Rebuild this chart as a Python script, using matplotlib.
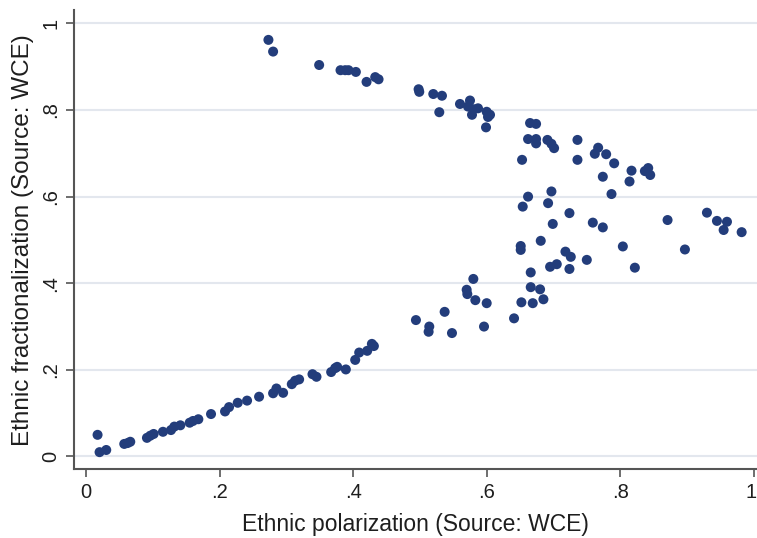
import matplotlib
matplotlib.use("Agg")
import matplotlib.pyplot as plt
from matplotlib.transforms import ScaledTranslation

polarization = [
    0.017, 0.020, 0.030, 0.057, 0.062, 0.066, 0.091, 0.096, 0.101, 0.115,
    0.127, 0.132, 0.141, 0.155, 0.160, 0.168, 0.187, 0.208, 0.214, 0.227,
    0.241, 0.259, 0.280, 0.285, 0.295, 0.308, 0.313, 0.319, 0.339, 0.345,
    0.367, 0.373, 0.376, 0.389, 0.403, 0.409, 0.421, 0.428, 0.431,
    0.494, 0.514, 0.513, 0.537, 0.548, 0.596, 0.580, 0.570, 0.571, 0.583,
    0.600, 0.641, 0.652, 0.669, 0.685, 0.666, 0.680, 0.666, 0.695, 0.705,
    0.724, 0.822, 0.750, 0.718, 0.726, 0.804, 0.681, 0.651, 0.651, 0.699,
    0.759, 0.774, 0.724, 0.897, 0.871, 0.930, 0.945, 0.960, 0.955, 0.982,
    0.697, 0.662, 0.654, 0.692, 0.787,
    0.273, 0.280, 0.349, 0.381, 0.388, 0.393, 0.404, 0.420, 0.433, 0.438,
    0.498, 0.499, 0.520, 0.533, 0.529, 0.560, 0.575, 0.572, 0.580, 0.587,
    0.578, 0.600, 0.605, 0.602, 0.599, 0.665, 0.674, 0.662, 0.674, 0.674,
    0.691, 0.697, 0.701, 0.653, 0.736, 0.736, 0.767, 0.762, 0.779, 0.791,
    0.774, 0.817, 0.814, 0.842, 0.837, 0.845,
]
fractionalization = [
    0.050, 0.010, 0.015, 0.029, 0.031, 0.034, 0.043, 0.048, 0.052, 0.057,
    0.061, 0.069, 0.072, 0.078, 0.082, 0.086, 0.098, 0.104, 0.114, 0.124,
    0.129, 0.138, 0.146, 0.157, 0.147, 0.167, 0.175, 0.178, 0.190, 0.184,
    0.195, 0.204, 0.207, 0.201, 0.223, 0.240, 0.244, 0.260, 0.255,
    0.315, 0.300, 0.288, 0.334, 0.285, 0.300, 0.410, 0.385, 0.375, 0.361,
    0.354, 0.319, 0.356, 0.354, 0.363, 0.391, 0.386, 0.425, 0.438, 0.444,
    0.433, 0.436, 0.454, 0.473, 0.461, 0.485, 0.498, 0.486, 0.477, 0.537,
    0.540, 0.529, 0.562, 0.478, 0.546, 0.563, 0.544, 0.542, 0.523, 0.518,
    0.612, 0.600, 0.577, 0.585, 0.606,
    0.962, 0.935, 0.904, 0.892, 0.892, 0.892, 0.888, 0.865, 0.876, 0.871,
    0.848, 0.842, 0.837, 0.833, 0.795, 0.814, 0.822, 0.808, 0.802, 0.804,
    0.789, 0.796, 0.789, 0.784, 0.760, 0.770, 0.768, 0.733, 0.733, 0.723,
    0.731, 0.722, 0.712, 0.685, 0.731, 0.685, 0.713, 0.699, 0.698, 0.677,
    0.646, 0.660, 0.635, 0.666, 0.659, 0.650,
]
x_ticks = [0, 0.2, 0.4, 0.6, 0.8, 1.0]
x_tick_labels = ["0", ".2", ".4", ".6", ".8", "1"]
y_ticks = [0, 0.2, 0.4, 0.6, 0.8, 1.0]
y_tick_labels = ["0", ".2", ".4", ".6", ".8", "1"]

plt.rcParams['font.family'] = ['Liberation Sans', 'DejaVu Sans']

W, H = 757, 538
fig = plt.figure(figsize=(W / 100, H / 100), dpi=100)
left, right, bottom, top = 74, 757, 469.3, 10
ax = fig.add_axes([left / W, 1 - bottom / H, (right - left) / W, (bottom - top) / H])

ax.scatter(polarization, fractionalization, s=52, color='#233d7b',
           edgecolors='none', zorder=3)

ax.set_xlim(-0.0183, 1.005)
ax.set_ylim(-0.0296, 1.031)
ax.set_xticks(x_ticks)
ax.set_xticklabels(x_tick_labels, fontsize=14.5, color='#1e1e1e')
ax.set_yticks(y_ticks)
ax.set_yticklabels(y_tick_labels, fontsize=14.5, color='#1e1e1e',
                   rotation=90, va='center')
ax.tick_params(axis='both', length=5.8, width=1.2, color='#555555', pad=4)

# keep the last x tick label inside the figure edge
lbl = ax.get_xticklabels()[-1]
lbl.set_transform(lbl.get_transform() + ScaledTranslation(-3 / 100, 0, fig.dpi_scale_trans))

ax.yaxis.grid(True, color='#e3e7ee', linewidth=1.5, zorder=0)
ax.xaxis.grid(False)
ax.set_axisbelow(True)

for s in ['top', 'right']:
    ax.spines[s].set_visible(False)
for s in ['left', 'bottom']:
    ax.spines[s].set_color('#555555')
    ax.spines[s].set_linewidth(1.5)

ax.set_xlabel("Ethnic polarization (Source: WCE)", fontsize=16.5,
              color='#1e1e1e', labelpad=8)
ax.set_ylabel("Ethnic fractionalization (Source: WCE)", fontsize=17.5,
              color='#1e1e1e', labelpad=5)

fig.savefig("out.png", dpi=100, facecolor='white')
